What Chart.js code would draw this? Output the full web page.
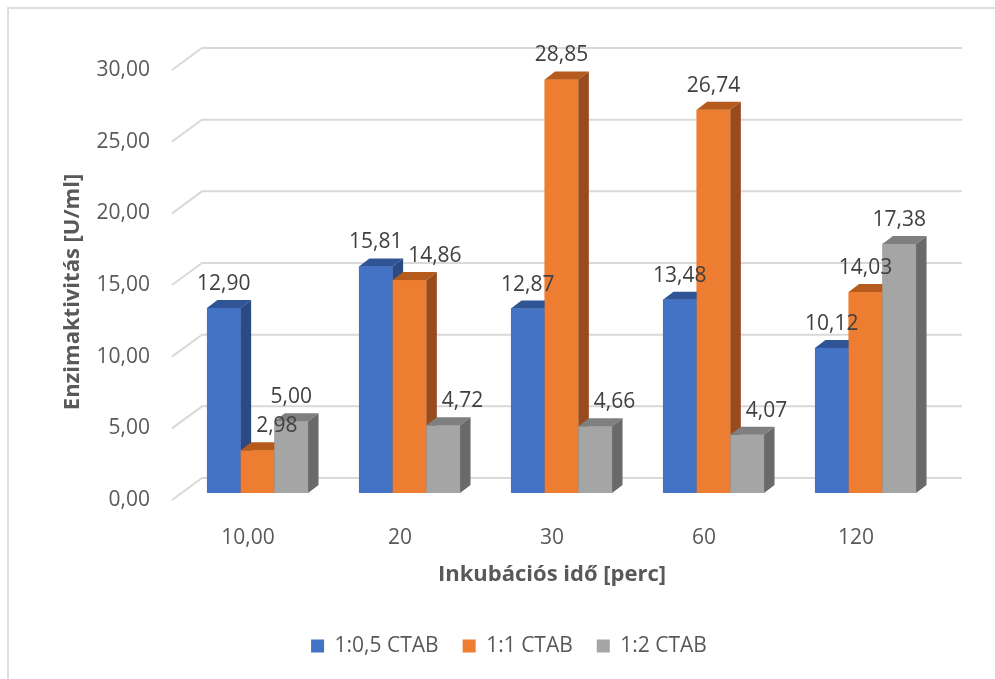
<!DOCTYPE html>
<html>
<head>
<meta charset="utf-8">
<script src="https://cdn.jsdelivr.net/npm/chart.js@4/dist/chart.umd.min.js"></script>
<style>
  html, body { margin: 0; padding: 0; background: #ffffff; overflow: hidden; }
  #frame { position: absolute; left: 7px; top: 7px; width: 2000px; height: 2000px;
           border-left: 2px solid #dedede; border-top: 2px solid #dedede; }
  #wrap { position: absolute; left: 0; top: 0; width: 995px; height: 679px; }
</style>
</head>
<body>
<div id="frame"></div>
<div id="wrap"><canvas id="c" width="995" height="679"></canvas></div>
<script>
// Incubation times (category axis) and enzyme activity per CTAB ratio
const categories = ['10,00', '20', '30', '60', '120'];
const seriesNames = ['1:0,5 CTAB', '1:1 CTAB', '1:2 CTAB'];
const ratioHalf = [12.90, 15.81, 12.87, 13.48, 10.12];
const ratioOne = [2.98, 14.86, 28.85, 26.74, 14.03];
const ratioTwo = [5.00, 4.72, 4.66, 4.07, 17.38];
const yTickValues = [0, 5, 10, 15, 20, 25, 30];
const xAxisTitle = 'Inkubációs idő [perc]';
const yAxisTitle = 'Enzimaktivitás [U/ml]';

// Face shading for the pseudo-3D columns: front, top, right side
const shades = [
  { front: '#4472c4', top: '#2f5597', side: '#2b4a81' },
  { front: '#ed7d31', top: '#b55b1e', side: '#984b1c' },
  { front: '#a5a5a5', top: '#7f7f7f', side: '#6a6a6a' }
];

const FONT = '"Open Sans", "DejaVu Sans", sans-serif';
const DEPTH_X = 10.5, DEPTH_Y = -8;        // column depth
const FLOOR_FRONT = { x: -9.5, y: 7 };      // front edge of the floor relative to the column plane
const FLOOR_BACK = { x: 20.5, y: -15 };     // back wall relative to the column plane

const fmt = v => v.toFixed(2).replace('.', ',');

// Slanted side-wall gridlines plus the back-wall gridlines
const wallGrid = {
  id: 'wallGrid',
  beforeDatasetsDraw(chart) {
    const { ctx, chartArea } = chart;
    const ys = chart.scales.y;
    ctx.save();
    ctx.strokeStyle = '#d9d9d9';
    ctx.lineWidth = 2;
    ys.ticks.forEach(t => {
      const py = ys.getPixelForValue(t.value);
      ctx.beginPath();
      ctx.moveTo(chartArea.left + FLOOR_FRONT.x, py + FLOOR_FRONT.y);
      ctx.lineTo(chartArea.left + FLOOR_BACK.x, py + FLOOR_BACK.y);
      ctx.lineTo(chartArea.right + FLOOR_BACK.x, py + FLOOR_BACK.y);
      ctx.stroke();
    });
    ctx.restore();
  }
};

// Extrudes each column (front, top, side) and writes its value above it
const columns3d = {
  id: 'columns3d',
  afterDatasetsDraw(chart) {
    const { ctx } = chart;
    const n = chart.data.datasets.length;
    const geo = [];
    for (let d = 0; d < n; d++) {
      const meta = chart.getDatasetMeta(d);
      const sh = shades[d];
      geo[d] = [];
      meta.data.forEach((el, i) => {
        const p = el.getProps(['x', 'y', 'base', 'width'], true);
        const l = p.x - p.width / 2, r = p.x + p.width / 2;
        geo[d][i] = { l, r, x: p.x, y: p.y, base: p.base };
        ctx.save();
        ctx.fillStyle = sh.front;
        ctx.fillRect(l, p.y, p.width, p.base - p.y);
        ctx.fillStyle = sh.top;
        ctx.beginPath();
        ctx.moveTo(l, p.y);
        ctx.lineTo(l + DEPTH_X, p.y + DEPTH_Y);
        ctx.lineTo(r + DEPTH_X, p.y + DEPTH_Y);
        ctx.lineTo(r, p.y);
        ctx.closePath();
        ctx.fill();
        ctx.fillStyle = sh.side;
        ctx.beginPath();
        ctx.moveTo(r, p.y);
        ctx.lineTo(r + DEPTH_X, p.y + DEPTH_Y);
        ctx.lineTo(r + DEPTH_X, p.base + DEPTH_Y);
        ctx.lineTo(r, p.base);
        ctx.closePath();
        ctx.fill();
        ctx.restore();
      });
    }

    // value labels, nudged right when they would sit on a neighbour
    ctx.save();
    ctx.font = '21px ' + FONT;
    ctx.fillStyle = '#404040';
    ctx.textAlign = 'left';
    ctx.textBaseline = 'alphabetic';
    const nCat = chart.data.labels.length;
    for (let i = 0; i < nCat; i++) {
      const placed = [];
      for (let d = 0; d < n; d++) {
        const g = geo[d][i];
        const value = chart.data.datasets[d].data[i];
        const text = fmt(value);
        const w = ctx.measureText(text).width;
        const cy = g.y - 25.5;
        const box = { l: g.x - w / 2, r: g.x + w / 2, t: cy - 10, b: cy + 10 };
        const obstacles = [];
        for (let k = 0; k < d; k++) {
          const o = geo[k][i];
          obstacles.push({ l: o.l, r: o.r + DEPTH_X, t: o.y + DEPTH_Y, b: o.base });
        }
        placed.forEach(pb => obstacles.push(pb));
        obstacles.forEach(o => {
          const hit = box.l < o.r && box.r > o.l && box.t < o.b && box.b > o.t;
          if (hit) { box.l = o.r + 5; box.r = box.l + w; }
        });
        ctx.fillText(text, box.l, cy + 7.5);
        placed.push(box);
      }
    }
    ctx.restore();
  }
};

// Axis titles sit on the front plane of the floor
const axisTitles = {
  id: 'axisTitles',
  afterDraw(chart) {
    const { ctx, chartArea } = chart;
    ctx.save();
    ctx.font = 'bold 22px ' + FONT;
    ctx.fillStyle = '#595959';
    ctx.textAlign = 'center';
    ctx.textBaseline = 'middle';
    ctx.fillText(xAxisTitle, (chartArea.left + chartArea.right) / 2 + FLOOR_FRONT.x, 575);
    ctx.translate(73, 292);
    ctx.rotate(-Math.PI / 2);
    ctx.fillText(yAxisTitle, 0, 0);
    ctx.restore();
  }
};

new Chart(document.getElementById('c'), {
  type: 'bar',
  data: {
    labels: categories,
    datasets: [
      { label: seriesNames[0], data: ratioHalf, backgroundColor: shades[0].front },
      { label: seriesNames[1], data: ratioOne, backgroundColor: shades[1].front },
      { label: seriesNames[2], data: ratioTwo, backgroundColor: shades[2].front }
    ]
  },
  options: {
    responsive: false,
    animation: false,
    devicePixelRatio: 1,
    datasets: { bar: { categoryPercentage: 0.665, barPercentage: 1 } },
    layout: { padding: { left: 76.5, right: 53.5, top: 63, bottom: 12.5 } },
    scales: {
      x: {
        grid: { display: false, drawTicks: false },
        border: { display: false },
        ticks: { color: '#595959', font: { family: FONT, size: 21 }, padding: 32, labelOffset: FLOOR_FRONT.x, maxRotation: 0 },
        afterFit: s => { s.height = 118.5; }
      },
      y: {
        min: 0,
        max: 30,
        grid: { display: false, drawTicks: false },
        border: { display: false },
        afterBuildTicks: s => { s.ticks = yTickValues.map(v => ({ value: v })); },
        ticks: { color: '#595959', font: { family: FONT, size: 21 }, padding: 31.5, labelOffset: FLOOR_FRONT.y,
                 callback: v => fmt(v) },
        afterFit: s => { s.width = 105; }
      }
    },
    plugins: {
      legend: {
        position: 'bottom',
        labels: { boxWidth: 13, boxHeight: 13, padding: 24, color: '#595959', font: { family: FONT, size: 21 } }
      },
      tooltip: { enabled: false }
    }
  },
  plugins: [wallGrid, columns3d, axisTitles]
});
</script>
</body>
</html>
